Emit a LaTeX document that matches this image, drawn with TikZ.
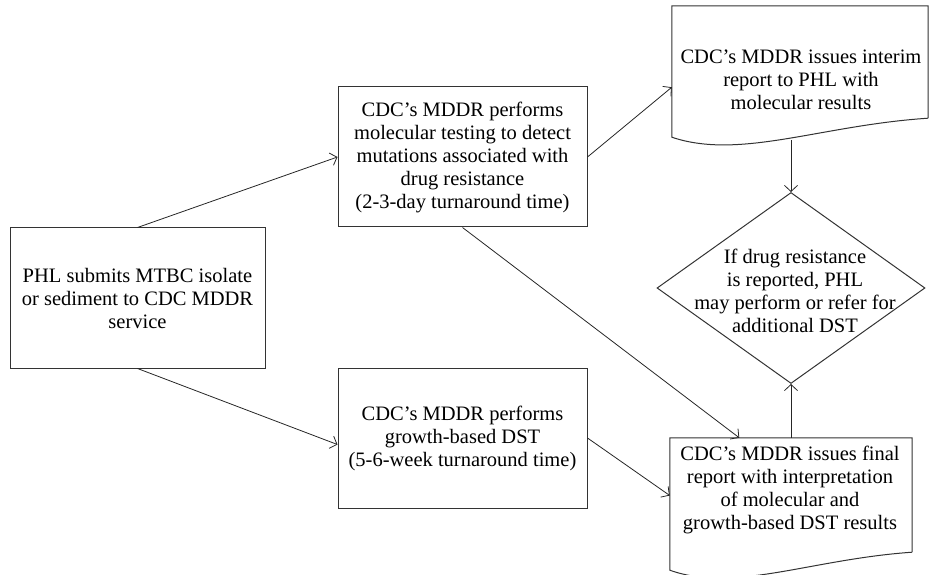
\documentclass[tikz,border=0pt]{standalone}
\usepackage{fontspec}
\setmainfont{Liberation Serif}
\usetikzlibrary{shapes.geometric}
\usetikzlibrary{arrows.meta}
\usetikzlibrary{calc}

\tikzset{
	flowtext/.style={align=center, inner sep=2pt, font=\fontsize{20.5}{23}\selectfont},
	box/.style={flowtext, draw=black!80, line width=1pt, rectangle, minimum width=249pt, minimum height=140pt},
	doc/.style={inner sep=0pt, minimum width=#1},
	decision/.style={draw=black!80, line width=1pt, diamond, inner sep=0pt, minimum width=268pt, minimum height=191pt},
	link/.style={black!85, line width=0.8pt, -{Straight Barb[length=6pt, width=13pt]}},
}

% document outline: node, rise of the right end, width
\newcommand{\docframe}[3]{%
	\draw[draw=black!80, line width=1pt] ([yshift=#2]#1.south east) -- (#1.north east) -- (#1.north west) -- (#1.south west)
		.. controls ($(#1.south west)+(0.266*#3,23)$) and ($(#1.south east)+(-0.42*#3,7-#2)$) .. ([yshift=#2]#1.south east);}

\begin{document}
\begin{tikzpicture}[x=1pt, y=-1pt]
	\useasboundingbox (0,0) rectangle (930,575);
	\node[box, minimum width=255pt] (phl) at (137.5,298) {PHL submits MTBC isolate\\or sediment to CDC MDDR\\service};
	\node[box] (mol) at (462.5,157) {CDC's MDDR performs\\molecular testing to detect\\mutations associated with\\drug resistance\\(2-3-day turnaround time)};
	\node[box] (growth) at (462.5,438) {CDC's MDDR performs\\growth-based DST\\(5-6-week turnaround time)};
	\node[doc=256pt, minimum height=131pt] (interim) at (800,71.5) {};
	\node[doc=242pt, minimum height=132pt] (final) at (791,504) {};
	\node[decision] (decide) at (791,288) {};
	\docframe{interim}{19}{256}
	\docframe{final}{18}{242}
	\node[flowtext] (interimtext) at (801,80) {CDC's MDDR issues interim\\report to PHL with\\molecular results};
	\node[flowtext] (decidetext) at (795,291) {If drug resistance\\is reported, PHL\\may perform or refer for\\additional DST};
	\node[flowtext] (finaltext) at (790,490) {CDC's MDDR issues final\\report with interpretation\\of molecular and\\growth-based DST results};

	\draw[link] (phl.north) -- (mol.west);
	\draw[link] (phl.south) -- (growth.183);
	\draw[link] (mol.east) -- (interim.187);
	\draw[link] (mol.south) -- (final.128);
	\draw[link] (growth.east) -- (final.176);
	\draw[link] ($(interim.south -| decide.north)+(0,3)$) -- (decide.north);
	\draw[link] (final.north) -- (decide.south);
\end{tikzpicture}
\end{document}
